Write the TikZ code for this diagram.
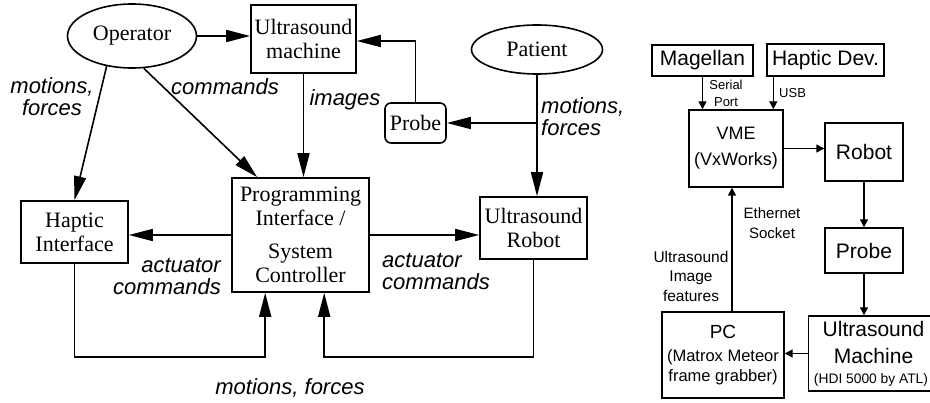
\documentclass[tikz,border=0pt]{standalone}
\usepackage{fontspec}
\setmainfont{Liberation Serif}
\newfontfamily\hv{Liberation Sans}
\usetikzlibrary{arrows.meta,calc,shapes.geometric}

\tikzset{
  lnode/.style={draw, line width=1.6pt, font=\fontsize{22}{24}\selectfont, align=center, inner sep=0pt},
  lbox/.style={lnode, rectangle},
  lell/.style={lnode, ellipse},
  lflow/.style={line width=1.6pt, -{Triangle[length=24pt,width=12pt]}},
  itl/.style={font=\hv\itshape\fontsize{22}{22}\selectfont, inner sep=0pt},
  rbox/.style={draw, line width=1.4pt, font=\hv\fontsize{21}{21}\selectfont, align=center, inner sep=0pt},
  rflow/.style={line width=1.4pt, -{Triangle[length=8pt,width=8pt]}},
  rlbl/.style={font=\hv\fontsize{15}{20}\selectfont, align=center, inner sep=0pt},
}

\begin{document}
\begin{tikzpicture}[x=1pt,y=-1pt]
\useasboundingbox (0,0) rectangle (930,403);
\clip (0,0) rectangle (930,403);

% ---------- teleoperation block diagram ----------
\node[lell, minimum width=129, minimum height=64] (op) at (132,36) {Operator};
\node[lbox, minimum width=105, minimum height=68] (usm) at (303.5,39) {Ultrasound\\machine};
\node[lell, minimum width=131, minimum height=49] (pat) at (537,49.5) {Patient};
\node[lbox, rounded corners=6pt, minimum width=61, minimum height=40] (probe) at (415.5,123) {Probe};
\node[lbox, minimum width=137, minimum height=114] (prog) at (300.5,235) {Programming\\Interface /\\[9pt]System\\Controller};
\node[lbox, minimum width=107, minimum height=62] (hap) at (74.5,232) {Haptic\\Interface};
\node[lbox, minimum width=107, minimum height=62] (rob) at (533.5,228) {Ultrasound\\Robot};

\coordinate (low) at (0,357);
\coordinate (inL) at ($(prog.south west)+(34,0)$);
\coordinate (inR) at ($(prog.south west)+(93,0)$);
\coordinate (split) at (pat.south |- probe.east);

\draw[lflow] (op.east) -- (op.east -| usm.west);
\draw[lflow] (op.230) -- (hap.north);
\draw[lflow] (op.290) -- ($(prog.north west)+(26,0)$);
\draw[lflow] (usm.south) -- (usm.south |- prog.north);
\draw[lflow] (probe.north) |- ([yshift=-2pt]usm.east);
\draw[lflow] (pat.south) -- (pat.south |- rob.north);
\draw[lflow] (split) -- (probe.east);
\draw[lflow] (prog.west) -- (prog.west -| hap.east);
\draw[lflow] (prog.east) -- (prog.east -| rob.west);
\draw[lflow] (hap.south) -- (hap.south |- low) -| (inL);
\draw[lflow] (rob.south) -- (rob.south |- low) -| (inR);

\node[itl, align=center] (lopmf) at (52,97) {motions,\\forces};
\node[itl] (lcmd) at (225,87) {commands};
\node[itl] (limages) at (345,100) {images};
\node[itl, align=left, anchor=west] (lpatmf) at (541,116.5) {motions,\\forces};
\node[itl, align=right, anchor=east] (lacl) at (221,277) {actuator\\commands};
\node[itl, align=left, anchor=west] (lacr) at (382,272) {actuator\\commands};
\node[itl] (lfb) at (290,388) {motions, forces};

% ---------- hardware set-up ----------
\node[rbox, minimum width=101, minimum height=31] (mag) at (702.5,60.5) {Magellan};
\node[rbox, minimum width=117, minimum height=32] (hdev) at (825.5,60) {Haptic Dev.};
\node[rbox, minimum width=94, minimum height=77, font=\hv\fontsize{18}{26}\selectfont] (vme) at (736,148.5) {VME\\(VxWorks)};
\node[rbox, minimum width=78, minimum height=58] (rbt) at (864,152) {Robot};
\node[rbox, minimum width=78, minimum height=45] (prb) at (864,250.5) {Probe};
\node[rbox, minimum width=127, minimum height=75, font=\hv\fontsize{21}{27}\selectfont] (usm2) at (872,353.5)
  {\hspace*{3pt}Ultrasound\\\hspace*{3pt}Machine\\[-7pt]{\fontsize{13.8}{20}\selectfont\hspace*{-2pt}(HDI 5000 by ATL)}};
\node[rbox, minimum width=122, minimum height=86, font=\hv\fontsize{16.5}{20}\selectfont] (pc) at (723,355)
  {{\fontsize{19}{20}\selectfont PC}\\[3pt](Matrox Meteor\\frame grabber)};

\coordinate (usbtop) at ($(hdev.south west)+(7,0)$);
\coordinate (pctop) at ($(pc.north)+(9,0)$);

\draw[rflow] (mag.south) -- (mag.south |- vme.north);
\draw[rflow] (usbtop) -- (usbtop |- vme.north);
\draw[rflow] (vme.east) -- (vme.east -| rbt.west);
\draw[rflow] (rbt.south) -- (prb.north);
\draw[rflow] (prb.south) -- (prb.south |- usm2.north);
\draw[rflow] (usm2.west) -- (usm2.west -| pc.east);
\draw[rflow] (pctop) -- (pctop |- vme.south);

\node[rlbl, font=\hv\fontsize{13}{17}\selectfont] (lserial) at (726,93.5) {Serial\\Port};
\node[rlbl, font=\hv\fontsize{13}{17}\selectfont, anchor=west] (lusb) at (779,93) {USB};
\node[rlbl] (leth) at (772,223) {Ethernet\\Socket};
\node[rlbl, font=\hv\fontsize{15.5}{19.5}\selectfont] (limg) at (691,276) {Ultrasound\\Image\\features};
\end{tikzpicture}
\end{document}
